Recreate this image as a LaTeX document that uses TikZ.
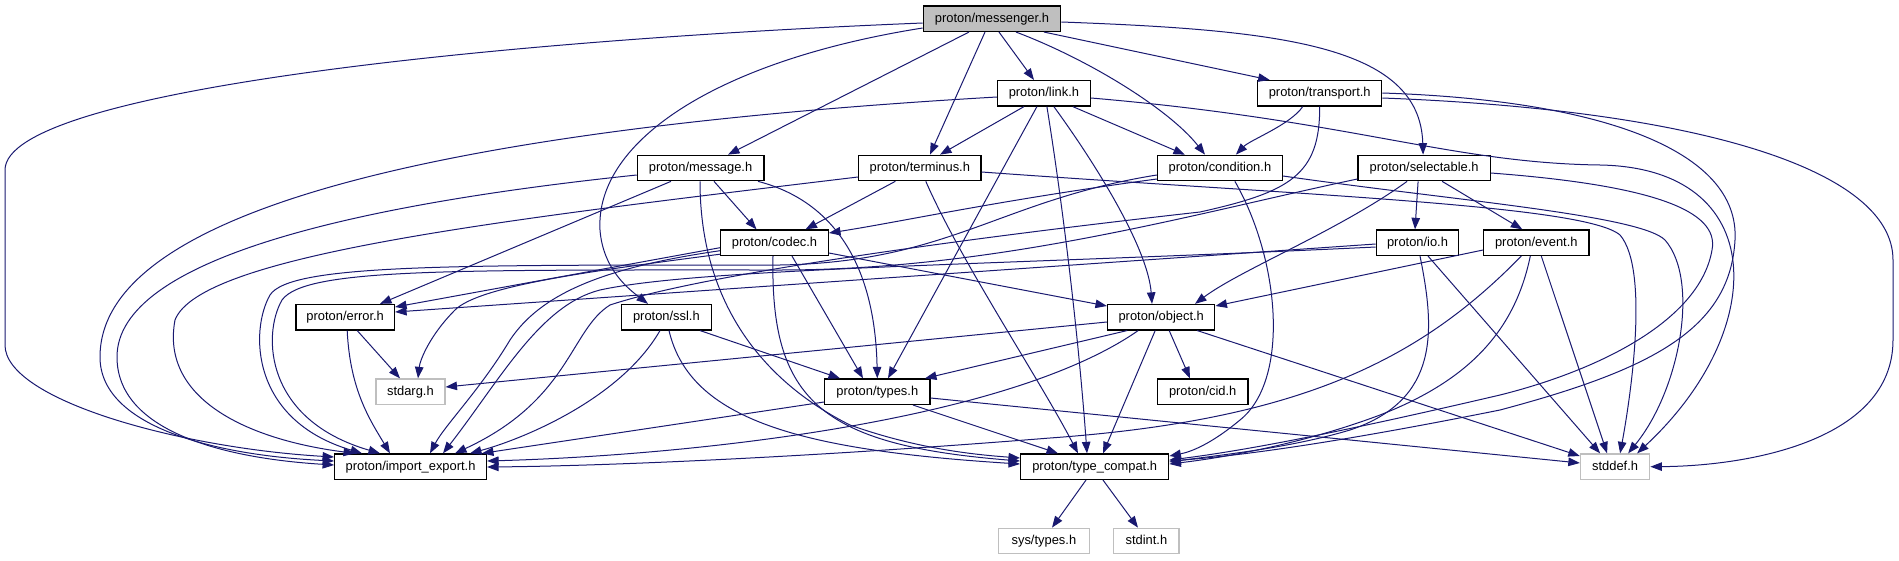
\documentclass[tikz,border=0pt]{standalone}
\usepackage{fontspec}
\newfontfamily\hfont{Liberation Sans}
\usetikzlibrary{arrows.meta}
\definecolor{edgeblue}{HTML}{191970}
\definecolor{greyseventyfive}{HTML}{BFBFBF}
\tikzset{
  box/.style={draw=black, line width=1.2pt, fill=white, minimum height=25.5pt, inner sep=0pt,
    text height=9.4pt, text depth=2.6pt, font=\hfont\fontsize{12.9}{15}\selectfont},
  extbox/.style={box, draw=greyseventyfive},
  rootbox/.style={box, fill=greyseventyfive},
  edge/.style={draw=edgeblue, line width=1pt, -{Triangle[length=11.5pt,width=8.5pt]}},
}
\begin{document}
\begin{tikzpicture}[x=1pt,y=-1pt]
\useasboundingbox (0,0) rectangle (1899,560);
% nodes
\node[rootbox, minimum width=137.5pt] (msg) at (992,18.7) {proton/messenger.h};
\node[box, minimum width=93pt] (link) at (1043.9,93.3) {proton/link.h};
\node[box, minimum width=124pt] (transport) at (1319.7,93.3) {proton/transport.h};
\node[box, minimum width=126.6pt] (message) at (700.6,168) {proton/message.h};
\node[box, minimum width=122.4pt] (terminus) at (919.8,168) {proton/terminus.h};
\node[box, minimum width=125pt] (condition) at (1219.9,168) {proton/condition.h};
\node[box, minimum width=132.2pt] (selectable) at (1424.1,168) {proton/selectable.h};
\node[box, minimum width=107.8pt] (codec) at (774.5,242.7) {proton/codec.h};
\node[box, minimum width=82.5pt] (io) at (1417.5,242.7) {proton/io.h};
\node[box, minimum width=105.3pt] (event) at (1536.3,242.7) {proton/event.h};
\node[box, minimum width=98.6pt] (error) at (345.2,317.2) {proton/error.h};
\node[box, minimum width=90.4pt] (ssl) at (666.4,317.2) {proton/ssl.h};
\node[box, minimum width=107.3pt] (object) at (1161.2,317.2) {proton/object.h};
\node[extbox, minimum width=69pt] (stdarg) at (410.4,391.7) {stdarg.h};
\node[box, minimum width=105.3pt] (types) at (877.3,391.7) {proton/types.h};
\node[box, minimum width=90.6pt] (cid) at (1202.7,391.7) {proton/cid.h};
\node[box, minimum width=151.8pt] (ie) at (410.6,466.7) {proton/import\_export.h};
\node[box, minimum width=148.2pt] (tc) at (1094.7,466.7) {proton/type\_compat.h};
\node[extbox, minimum width=69.4pt] (stddef) at (1615.1,466.7) {stddef.h};
\node[extbox, minimum width=90.6pt] (systypes) at (1043.9,541) {sys/types.h};
\node[extbox, minimum width=65.3pt] (stdint) at (1146.4,541) {stdint.h};

% messenger
\draw[edge] ([yshift=-4.3pt]msg.west) .. controls (500,40) and (5,90) .. (5,170) -- (5,345) .. controls (5,400) and (180,448) .. ([yshift=9.7pt]ie.west);
\draw[edge] ([yshift=-9.3pt]msg.west) .. controls (720,60) and (595,140) .. (600,230) .. controls (603,270) and (630,290) .. ([xshift=-18.4pt]ssl.north);
\draw[edge] ([xshift=-23pt]msg.south) -- ([xshift=27.4pt]message.north);
\draw[edge] ([xshift=-7pt]msg.south) -- ([xshift=10.2pt]terminus.north);
\draw[edge] ([xshift=7pt]msg.south) -- ([xshift=-9.9pt]link.north);
\draw[edge] ([xshift=24pt]msg.south) .. controls (1090,60) and (1170,110) .. ([xshift=-14.9pt]condition.north);
\draw[edge] ([xshift=52pt]msg.south) -- ([xshift=-50pt]transport.north);
\draw[edge] ([yshift=-3.3pt]msg.east) .. controls (1280,30) and (1420,45) .. ([xshift=-1pt]selectable.north);

% link
\draw[edge] ([yshift=-3.7pt]link.west) .. controls (600,120) and (100,180) .. (100,357) .. controls (100,425) and (210,455) .. ([yshift=5.7pt]ie.west);
\draw[edge] ([xshift=-20pt]link.south) -- ([xshift=20.2pt]terminus.north);
\draw[edge] ([xshift=-7pt]link.south) -- ([xshift=10.7pt]types.north);
\draw[edge] ([xshift=3pt]link.south) .. controls (1062,200) and (1078,330) .. ([xshift=-7.7pt]tc.north);
\draw[edge] ([xshift=10pt]link.south) .. controls (1100,170) and (1148,250) .. ([xshift=-9.2pt]object.north);
\draw[edge] ([xshift=29pt]link.south) -- ([xshift=-35pt]condition.north);
\draw[edge] ([yshift=-4.7pt]link.east) .. controls (1350,120) and (1450,163) .. (1600,165) .. controls (1770,168) and (1770,330) .. ([xshift=22pt]stddef.north);

% transport
\draw[edge] ([xshift=-17pt]transport.south) .. controls (1290,125) and (1250,140) .. ([xshift=16pt]condition.north);
\draw[edge] (transport.south) .. controls (1320,175) and (1290,192) .. (1200,212) .. controls (950,240) and (700,275) .. (610,305) .. controls (570,330) and (570,400) .. ([xshift=44.4pt]ie.north);
\draw[edge] ([yshift=0.3pt]transport.east) .. controls (1600,100) and (1740,150) .. (1735,240) .. controls (1730,330) and (1650,370) .. (1500,410) .. controls (1350,440) and (1250,455) .. ([yshift=5.7pt]tc.east);
\draw[edge] ([yshift=-4.7pt]transport.east) .. controls (1700,110) and (1893,170) .. (1893,260) -- (1893,340) .. controls (1893,440) and (1750,466) .. (stddef.east);

% message
\draw[edge] ([yshift=-7pt]message.west) .. controls (350,205) and (117,260) .. (117,357) .. controls (117,430) and (220,458) .. ([yshift=1.7pt]ie.west);
\draw[edge] ([xshift=-29.6pt]message.south) -- ([xshift=34.8pt]error.north);
\draw[edge] ([xshift=-0.6pt]message.south) .. controls (700,300) and (760,380) .. (850,425) .. controls (920,450) and (980,455) .. ([yshift=8.7pt]tc.west);
\draw[edge] ([xshift=13.4pt]message.south) -- ([xshift=-18pt]codec.north);
\draw[edge] ([xshift=57.4pt]message.south) .. controls (830,200) and (875,260) .. (types.north);

% terminus
\draw[edge] ([yshift=-9pt]terminus.west) .. controls (500,220) and (200,255) .. (175,320) .. controls (160,400) and (250,440) .. ([xshift=-55.6pt]ie.north);
\draw[edge] ([xshift=-24.5pt]terminus.south) -- ([xshift=31pt]codec.north);
\draw[edge] ([xshift=6pt]terminus.south) .. controls (960,260) and (1040,380) .. ([xshift=-16.7pt]tc.north);
\draw[edge] ([yshift=-4pt]terminus.east) .. controls (1300,195) and (1585,205) .. (1620,235) .. controls (1650,270) and (1630,400) .. ([xshift=5pt]stddef.north);

% condition
\draw[edge] ([yshift=-7pt]condition.west) .. controls (1000,200) and (950,262) .. (780,265) .. controls (450,265) and (290,264) .. (270,295) .. controls (250,330) and (250,420) .. ([xshift=-48.6pt]ie.north);
\draw[edge] ([yshift=-11pt]condition.west) .. controls (1000,200) and (900,222) .. ([yshift=9.7pt]codec.east);
\draw[edge] ([xshift=15pt]condition.south) .. controls (1280,260) and (1290,380) .. (1240,420) .. controls (1210,445) and (1190,452) .. ([yshift=10.7pt]tc.east);
\draw[edge] ([yshift=-8pt]condition.east) .. controls (1450,200) and (1640,215) .. (1665,240) .. controls (1700,280) and (1680,390) .. ([xshift=13pt]stddef.north);

% selectable
\draw[edge] ([yshift=-11pt]selectable.west) .. controls (1200,212) and (1000,270) .. (780,270) .. controls (450,270) and (305,268) .. (282,300) .. controls (262,335) and (265,420) .. ([xshift=-30.6pt]ie.north);
\draw[edge] ([xshift=-17pt]selectable.south) .. controls (1340,230) and (1240,270) .. ([xshift=33.8pt]object.north);
\draw[edge] ([xshift=-6pt]selectable.south) -- ([xshift=-2.5pt]io.north);
\draw[edge] ([xshift=18pt]selectable.south) -- ([xshift=-14pt]event.north);
\draw[edge] ([yshift=-5pt]selectable.east) .. controls (1650,185) and (1720,210) .. (1712,250) .. controls (1700,320) and (1600,370) .. (1500,395) .. controls (1350,430) and (1250,450) .. ([yshift=6.7pt]tc.east);

% codec
\draw[edge] ([yshift=-8pt]codec.west) .. controls (600,268) and (540,295) .. (510,340) .. controls (480,390) and (445,425) .. ([xshift=19.4pt]ie.north);
\draw[edge] ([yshift=-5pt]codec.west) -- ([yshift=10.2pt]error.east);
\draw[edge] ([yshift=-11.5pt]codec.west) .. controls (600,270) and (480,285) .. (455,310) .. controls (430,335) and (420,360) .. ([xshift=7.6pt]stdarg.north);
\draw[edge] ([xshift=-1.5pt]codec.south) .. controls (770,400) and (820,445) .. ([yshift=5.7pt]tc.west);
\draw[edge] ([xshift=17.5pt]codec.south) -- ([xshift=-14.3pt]types.north);
\draw[edge] ([yshift=-10.3pt]codec.east) -- ([yshift=11.2pt]object.west);

% io
\draw[edge] ([yshift=-4.3pt]io.west) .. controls (1000,265) and (700,268) .. (600,290) .. controls (540,305) and (500,380) .. ([xshift=32.4pt]ie.north);
\draw[edge] ([yshift=-1.3pt]io.west) -- ([yshift=5.2pt]error.east);
\draw[edge] ([xshift=2.5pt]io.south) .. controls (1435,330) and (1440,400) .. (1350,430) .. controls (1290,448) and (1220,455) .. ([yshift=4.7pt]tc.east);
\draw[edge] ([xshift=10.5pt]io.south) -- ([xshift=-15pt]stddef.north);

% event
\draw[edge] ([yshift=-7.3pt]event.west) -- ([yshift=11.2pt]object.east);
\draw[edge] ([xshift=-15pt]event.south) .. controls (1420,360) and (1300,420) .. (1050,438) .. controls (800,458) and (600,466) .. ([yshift=-0.3pt]ie.east);
\draw[edge] ([xshift=-6pt]event.south) .. controls (1515,330) and (1470,380) .. (1380,415) .. controls (1300,445) and (1220,458) .. ([yshift=2.7pt]tc.east);
\draw[edge] ([xshift=5pt]event.south) -- ([xshift=-8pt]stddef.north);

% error
\draw[edge] ([xshift=2pt]error.south) .. controls (350,390) and (370,420) .. ([xshift=-20.6pt]ie.north);
\draw[edge] ([xshift=12pt]error.south) -- ([xshift=-10.4pt]stdarg.north);

% ssl
\draw[edge] ([xshift=-6.4pt]ssl.south) .. controls (620,400) and (520,440) .. ([xshift=59.4pt]ie.north);
\draw[edge] ([xshift=2.6pt]ssl.south) .. controls (690,420) and (800,450) .. ([yshift=2.7pt]tc.west);
\draw[edge] ([xshift=33.6pt]ssl.south) -- ([xshift=-37.3pt]types.north);

% object
\draw[edge] ([yshift=-4.8pt]object.west) -- ([yshift=4.7pt]stdarg.east);
\draw[edge] ([xshift=-34pt]object.south) -- ([xshift=47.7pt]types.north);
\draw[edge] ([xshift=-23pt]object.south) .. controls (1010,420) and (700,455) .. ([yshift=5.7pt]ie.east);
\draw[edge] ([xshift=-6pt]object.south) -- ([xshift=8.3pt]tc.north);
\draw[edge] ([xshift=8pt]object.south) -- ([xshift=-12.7pt]cid.north);
\draw[edge] ([xshift=36pt]object.south) -- ([yshift=10.7pt]stddef.west);

% types
\draw[edge] ([yshift=-10.3pt]types.west) -- ([xshift=71.4pt]ie.north);
\draw[edge] ([xshift=35.7pt]types.south) -- ([xshift=-36.7pt]tc.north);
\draw[edge] ([yshift=-6.3pt]types.east) -- ([yshift=3.7pt]stddef.west);

% type_compat
\draw[edge] ([xshift=-8.7pt]tc.south) -- ([xshift=8.1pt]systypes.north);
\draw[edge] ([xshift=8.3pt]tc.south) -- ([xshift=-8.4pt]stdint.north);
\end{tikzpicture}
\end{document}
